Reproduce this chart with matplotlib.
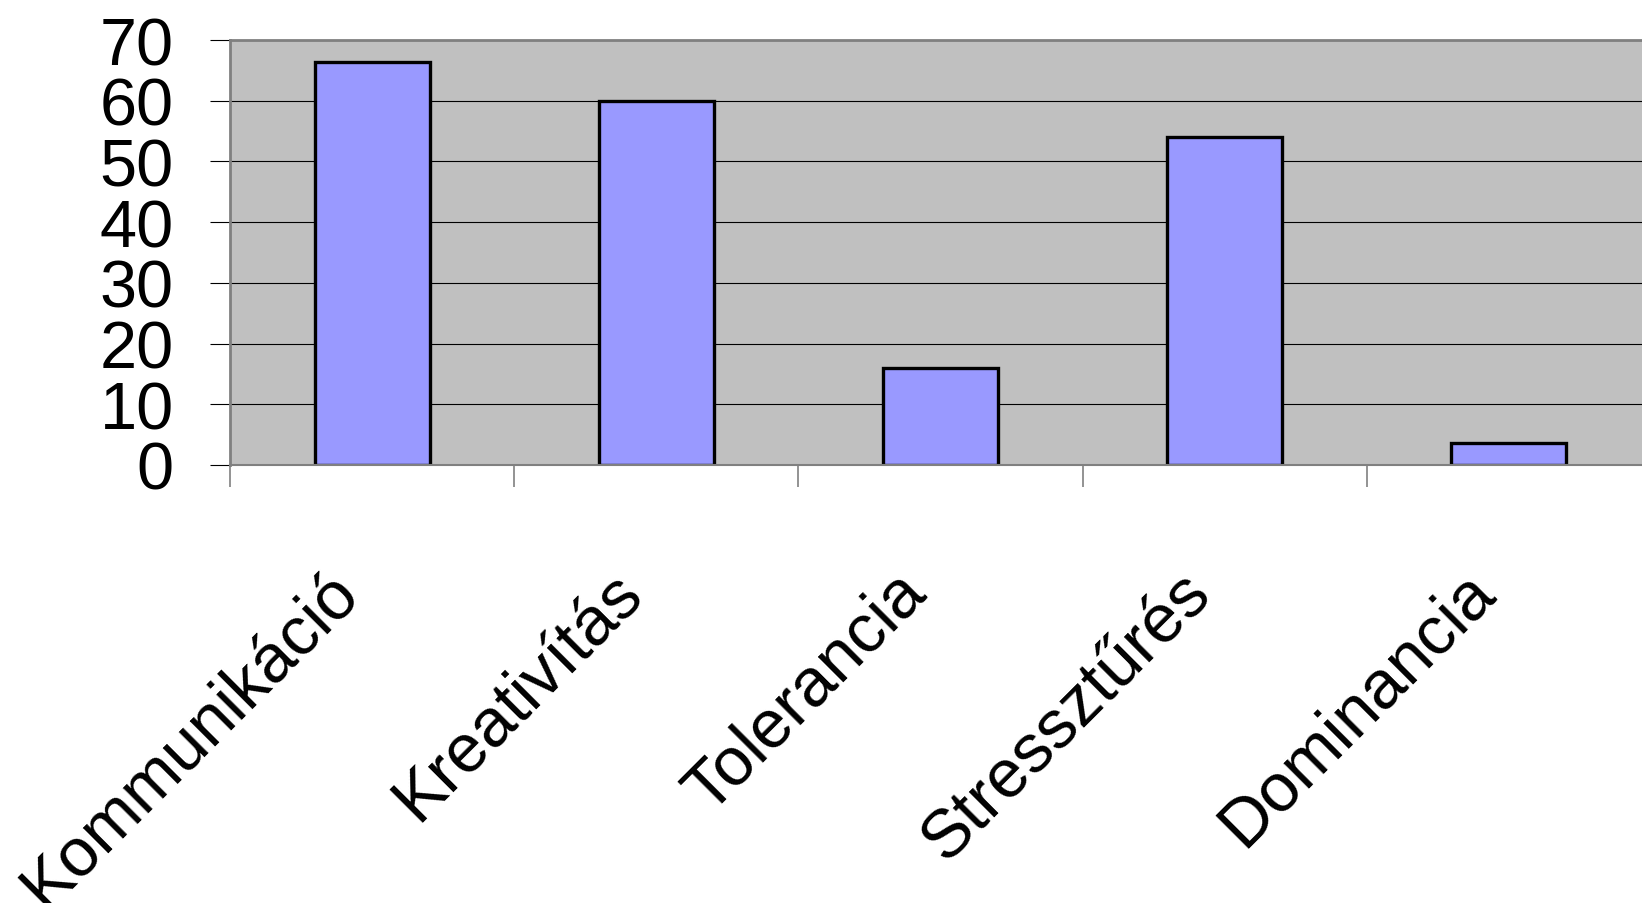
import numpy as np
import matplotlib.pyplot as plt
from matplotlib import transforms

plt.rcParams['font.family'] = ['Liberation Sans', 'DejaVu Sans']

# Data
categories = ['Kommunikáció', 'Kreativítás', 'Tolerancia', 'Stressztűrés', 'Dominancia']
values = [66.4, 60, 16, 54, 3.7]
yticks = [0, 10, 20, 30, 40, 50, 60, 70]

fig = plt.figure(figsize=(16.42, 9.04), dpi=100)
ax = fig.add_axes([230 / 1642, (904 - 466) / 904, 1421 / 1642, 425 / 904])

x = np.arange(len(categories))
ax.set_facecolor('#C0C0C0')
ax.set_axisbelow(True)
ax.yaxis.grid(True, color='black', linewidth=0.8)
ax.bar(x, values, width=0.405, color='#9999FF', edgecolor='black', linewidth=2.4)

ax.set_xlim(-0.5, len(categories) - 0.5)
ax.set_ylim(0, 70)
ax.set_yticks(yticks)
ax.tick_params(axis='y', labelsize=48, length=14.5, width=0.8, color='black', pad=26)

# category boundaries carry the tick marks, labels sit under bar centres
ax.set_xticks(np.arange(len(categories) + 1) - 0.5)
ax.set_xticklabels([])
ax.tick_params(axis='x', length=16, width=1.2, color='#808080')

offset = transforms.ScaledTranslation(-12 / 100, -129 / 100, fig.dpi_scale_trans)
for xi, name in zip(x, categories):
    ax.text(xi, 0, name, transform=ax.get_xaxis_transform() + offset,
            rotation=45, rotation_mode='anchor', ha='right', va='baseline',
            fontsize=49)

for side in ['left', 'top', 'bottom']:
    ax.spines[side].set_color('#808080')
    ax.spines[side].set_linewidth(2)
ax.spines['bottom'].set_linewidth(1.5)
ax.spines['right'].set_visible(False)

plt.savefig('out.png', dpi=100)
